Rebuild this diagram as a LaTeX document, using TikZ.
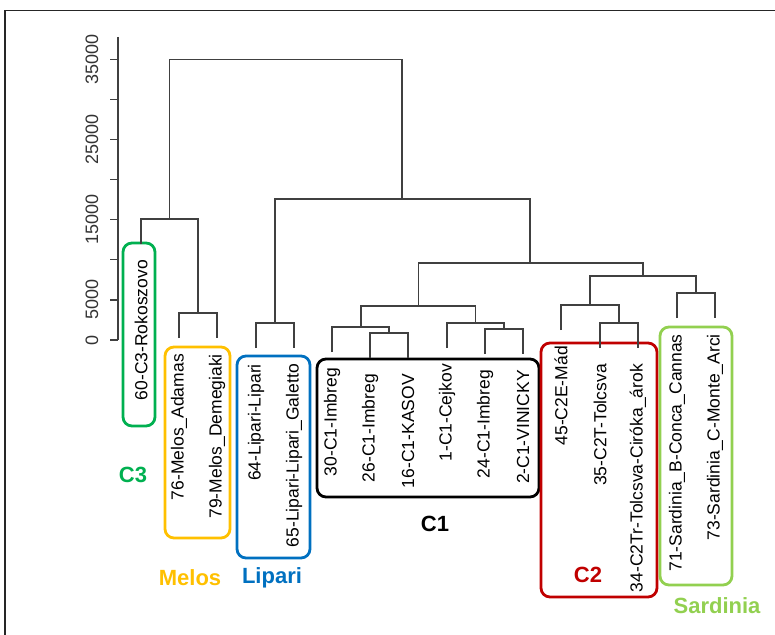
\documentclass[tikz,border=0pt]{standalone}
\usepackage{fontspec}
\setmainfont{Liberation Sans}
\usepackage{tikz}
\usetikzlibrary{calc}
\usepackage{xcolor}
\definecolor{cthree}{RGB}{0,176,80}
\definecolor{melos}{RGB}{255,192,0}
\definecolor{lipari}{RGB}{0,112,192}
\definecolor{ctwo}{RGB}{192,0,0}
\definecolor{sardinia}{RGB}{146,208,80}
\tikzset{
  tree/.style={draw=black!75,line width=1.3pt},
  leaflab/.style={rotate=90,anchor=east,inner sep=0pt,font=\fontsize{17.5}{19}\selectfont},
  axlab/.style={rotate=90,inner sep=0pt,font=\fontsize{18}{20}\selectfont,text=black!80},
  grp/.style={rounded corners=9pt,line width=2.8pt},
  grplab/.style={inner sep=0pt,font=\fontsize{22}{24}\selectfont\bfseries}
}

\begin{document}
\begin{tikzpicture}[x=1pt,y=-1pt]
\useasboundingbox (0,0) rectangle (775,634);
\draw[line width=1.4pt,black!85] (5,10.5) rectangle (790,650);

% axis
\draw[tree] (118,37) -- (118,340);
\draw[tree] (110,340) -- (118,340);
\draw[tree] (110,299.9) -- (118,299.9);
\draw[tree] (110,259.8) -- (118,259.8);
\draw[tree] (110,219.7) -- (118,219.7);
\draw[tree] (110,179.6) -- (118,179.6);
\draw[tree] (110,139.4) -- (118,139.4);
\draw[tree] (110,99.3) -- (118,99.3);
\draw[tree] (110,59.3) -- (118,59.3);
\node[axlab] (y0) at (92,340) {0};
\node[axlab] (y5) at (92,299.9) {5000};
\node[axlab] (y15) at (92,219.7) {15000};
\node[axlab] (y25) at (92,139.4) {25000};
\node[axlab] (y35) at (92,59.3) {35000};

% group boxes
\draw[grp,draw=cthree] (123,243) rectangle (155,426);
\draw[grp,draw=melos] (165,347) rectangle (230,538);
\draw[grp,draw=lipari] (237,356) rectangle (310,558);
\draw[grp,draw=black] (317,359) rectangle (539,497);
\draw[grp,draw=ctwo] (541,343) rectangle (657,597);
\draw[grp,draw=sardinia] (660,327) rectangle (732,585);

% merges
\coordinate (root) at (286,59.3);
\coordinate (left) at (169.5,219);
\coordinate (melos) at (198,313);
\coordinate (right) at (402,199);
\coordinate (lipari) at (275,323);
\coordinate (main) at (530,263);
\coordinate (cone) at (418.5,306);
\coordinate (conea) at (361,327);
\coordinate (coneaa) at (389,333);
\coordinate (coneb) at (475.5,323);
\coordinate (conebb) at (504,329);
\coordinate (csar) at (643,276);
\coordinate (ctwo) at (590,305);
\coordinate (ctwob) at (619,323);
\coordinate (sard) at (696,293);

% leaves
\coordinate (l1) at (141,244);
\coordinate (l2) at (179,338);
\coordinate (l3) at (217,338);
\coordinate (l4) at (256,348);
\coordinate (l5) at (294,348);
\coordinate (l6) at (332,352);
\coordinate (l7) at (370,358);
\coordinate (l8) at (408,358);
\coordinate (l9) at (447,348);
\coordinate (l10) at (485,354);
\coordinate (l11) at (523,354);
\coordinate (l12) at (561,330);
\coordinate (l13) at (600,348);
\coordinate (l14) at (638,348);
\coordinate (l15) at (677,318);
\coordinate (l16) at (715,318);

\draw[tree] (left) |- (root) -| (right);
\draw[tree] (l1) |- (left) -| (melos);
\draw[tree] (l2) |- (melos) -| (l3);
\draw[tree] (lipari) |- (right) -| (main);
\draw[tree] (l4) |- (lipari) -| (l5);
\draw[tree] (cone) |- (main) -| (csar);
\draw[tree] (conea) |- (cone) -| (coneb);
\draw[tree] (l6) |- (conea) -| (coneaa);
\draw[tree] (l7) |- (coneaa) -| (l8);
\draw[tree] (l9) |- (coneb) -| (conebb);
\draw[tree] (l10) |- (conebb) -| (l11);
\draw[tree] (ctwo) |- (csar) -| (sard);
\draw[tree] (l12) |- (ctwo) -| (ctwob);
\draw[tree] (l13) |- (ctwob) -| (l14);
\draw[tree] (l15) |- (sard) -| (l16);

% leaf labels
\node[leaflab] (t1) at ([yshift=-16pt]l1) {60-C3-Rokoszovo};
\node[leaflab] (t2) at ([yshift=-16pt]l2) {76-Melos\_Adamas};
\node[leaflab] (t3) at ([yshift=-16pt]l3) {79-Melos\_Demegiaki};
\node[leaflab] (t4) at ([yshift=-16pt]l4) {64-Lipari-Lipari};
\node[leaflab] (t5) at ([yshift=-16pt]l5) {65-Lipari-Lipari\_Galetto};
\node[leaflab] (t6) at ([yshift=-16pt]l6) {30-C1-Imbreg};
\node[leaflab] (t7) at ([yshift=-16pt]l7) {26-C1-Imbreg};
\node[leaflab] (t8) at ([yshift=-16pt]l8) {16-C1-KASOV};
\node[leaflab] (t9) at ([yshift=-16pt]l9) {1-C1-Cejkov};
\node[leaflab] (t10) at ([yshift=-16pt]l10) {24-C1-Imbreg};
\node[leaflab] (t11) at ([yshift=-16pt]l11) {2-C1-VINICKY};
\node[leaflab] (t12) at ([yshift=-16pt]l12) {45-C2E-Mád};
\node[leaflab] (t13) at ([yshift=-16pt]l13) {35-C2T-Tolcsva};
\node[leaflab] (t14) at ([yshift=-16pt]l14) {34-C2Tr-Tolcsva-Ciróka\_árok};
\node[leaflab] (t15) at ([yshift=-16pt]l15) {71-Sardinia\_B-Conca\_Cannas};
\node[leaflab] (t16) at ([yshift=-16pt]l16) {73-Sardinia\_C-Monte\_Arci};

% group labels
\node[grplab,text=cthree] (gC3) at (133,475) {C3};
\node[grplab,text=melos] (gMelos) at (190,578) {Melos};
\node[grplab,text=lipari] (gLipari) at (272,578) {Lipari};
\node[grplab,text=black] (gC1) at (435,524) {C1};
\node[grplab,text=ctwo] (gC2) at (588,575) {C2};
\node[grplab,text=sardinia] (gSard) at (717,606) {Sardinia};
\end{tikzpicture}
\end{document}
